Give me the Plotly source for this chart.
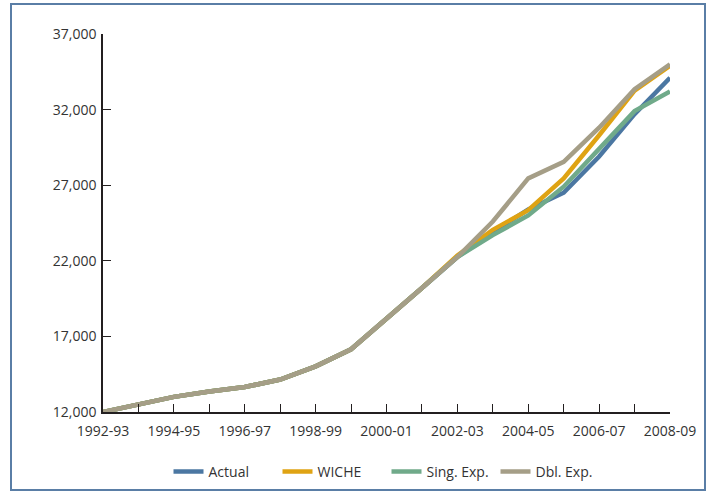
import plotly.graph_objects as go

years = ["1992-93", "1993-94", "1994-95", "1995-96", "1996-97", "1997-98",
         "1998-99", "1999-00", "2000-01", "2001-02", "2002-03", "2003-04",
         "2004-05", "2005-06", "2006-07", "2007-08", "2008-09"]

actual = [12000, 12480, 13000, 13350, 13650, 14150, 15020, 16150, 18150, 20200,
          22250, 23900, 25400, 26500, 28900, 31700, 34100]
wiche = [12000, 12480, 13000, 13350, 13650, 14150, 15020, 16150, 18150, 20200,
         22350, 24050, 25350, 27450, 30300, 33250, 34900]
sing_exp = [12000, 12480, 13000, 13350, 13650, 14150, 15020, 16150, 18150, 20200,
            22250, 23700, 25000, 26900, 29400, 31900, 33200]
dbl_exp = [12000, 12480, 13000, 13350, 13650, 14150, 15020, 16150, 18150, 20200,
           22250, 24600, 27450, 28550, 30800, 33350, 35000]

tick_text = [y if i % 2 == 0 else "" for i, y in enumerate(years)]
y_ticks = [12000, 17000, 22000, 27000, 32000, 37000]

series = [
    ("Actual", actual, "#4b77a2"),
    ("WICHE", wiche, "#dfa313"),
    ("Sing. Exp.", sing_exp, "#70aa8a"),
    ("Dbl. Exp.", dbl_exp, "#a59e87"),
]

fig = go.Figure()
for name, vals, col in series:
    fig.add_trace(go.Scatter(x=years, y=vals, mode="lines", name=name,
                             line=dict(color=col, width=4.5)))

font = "Open Sans, Noto Sans, sans-serif"
fig.update_layout(
    width=712, height=493,
    margin=dict(l=103, r=42, t=34, b=81),
    paper_bgcolor="white", plot_bgcolor="white",
    font=dict(family=font, size=14, color="#333333"),
    showlegend=True,
    legend=dict(orientation="h", x=0.5, xanchor="center",
                yref="container", y=1 - 472 / 493, yanchor="middle",
                font=dict(size=14, color="#333333"),
                entrywidth=64, entrywidthmode="pixels",
                traceorder="normal"),
    xaxis=dict(type="category", range=[0, 16], showgrid=False, zeroline=False,
               showline=True, linecolor="#231f20", linewidth=1.5,
               ticks="inside", ticklen=8, tickcolor="#231f20", tickwidth=1,
               tickmode="array", tickvals=years, ticktext=tick_text,
               ticklabelstandoff=5, automargin=False,
               tickfont=dict(size=14, color="#333333")),
    yaxis=dict(range=[12000, 37000], showgrid=False, zeroline=False,
               showline=True, linecolor="#231f20", linewidth=1.5,
               ticks="inside", ticklen=8, tickcolor="#231f20", tickwidth=1,
               tickmode="array", tickvals=y_ticks, tickformat=",",
               ticklabelstandoff=2, automargin=False,
               tickfont=dict(size=14, color="#333333")),
)

# outer frame
fig.add_shape(type="rect", xref="paper", yref="paper",
              x0=(11 - 103) / 567, x1=(705 - 103) / 567,
              y0=(412 - 490) / 378, y1=(412 - 4) / 378,
              line=dict(color="#5a7ea6", width=2), fillcolor="rgba(0,0,0,0)",
              layer="below")

fig.write_html("out.html", config={"displayModeBar": False},
               post_script="document.body.style.margin='0';")
